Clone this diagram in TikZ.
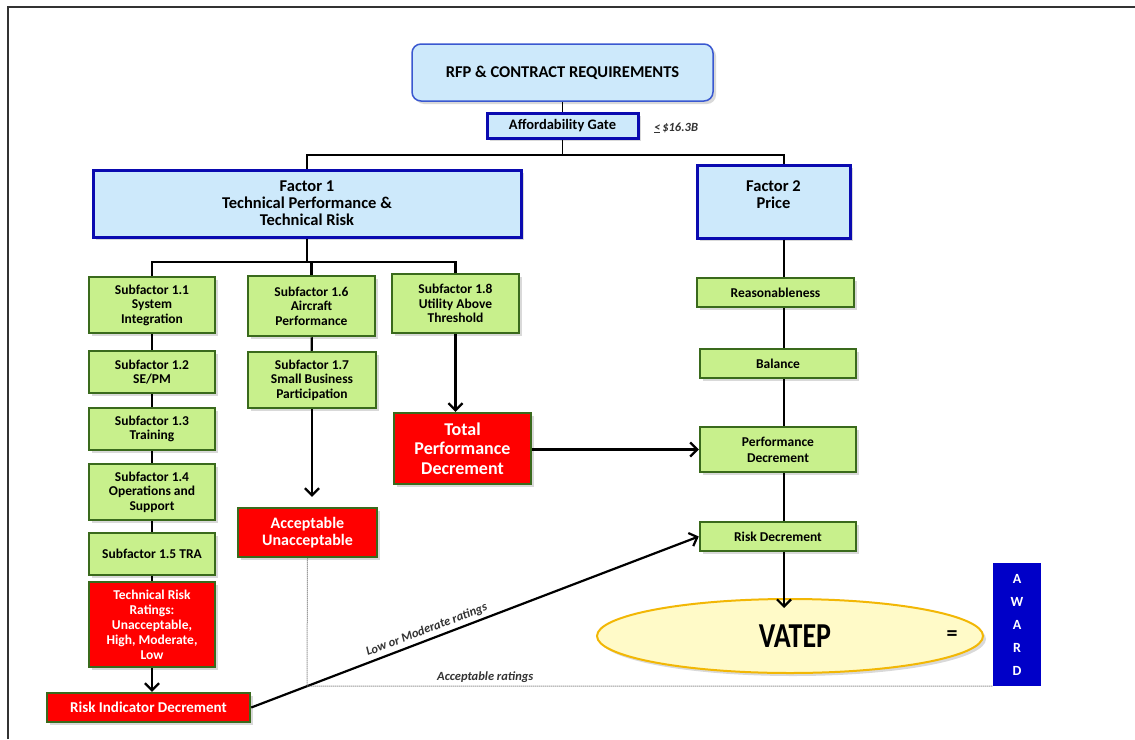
\documentclass[tikz,border=0pt]{standalone}
\usepackage{fontspec}
\setmainfont{Carlito}
\usetikzlibrary{arrows.meta}
\usetikzlibrary{shadows}
\usetikzlibrary{shapes.geometric}

\definecolor{boxblue}{HTML}{CDE9FB}
\definecolor{edgeblue}{HTML}{0A0AB0}
\definecolor{rfpedge}{HTML}{3A58D0}
\definecolor{boxgreen}{HTML}{C8F08C}
\definecolor{edgegreen}{HTML}{3A6A1C}
\definecolor{boxred}{HTML}{FF0000}
\definecolor{ovalfill}{HTML}{FFFAC8}
\definecolor{ovaledge}{HTML}{F2B705}
\definecolor{awardblue}{HTML}{0000C8}

\begin{document}
\begin{tikzpicture}[x=1pt,y=-1pt,
    >={Straight Barb[length=7pt,width=14pt]},
    shade/.style={drop shadow={opacity=0.3,shadow xshift=3pt,shadow yshift=-3pt}},
    factor/.style={draw=edgeblue,line width=3pt,fill=boxblue,inner sep=0pt,
      align=center,shade,font=\bfseries\fontsize{16.5}{17}\selectfont},
    sub/.style={draw=edgegreen,line width=2.5pt,fill=boxgreen,inner sep=0pt,
      align=center,shade,font=\bfseries\fontsize{13.5}{14.5}\selectfont},
    redbox/.style={sub,fill=boxred,text=white},
    link/.style={line width=2.2pt},
    note/.style={font=\bfseries\itshape\fontsize{12.5}{14}\selectfont,text=black!80}]
\useasboundingbox (0,0) rectangle (1135,739);
\draw[line width=1.4pt,black!80] (8,739) -- (8,7) -- (1135,7);

% top of the tree
\node[factor,draw=rfpedge,line width=1.5pt,rounded corners=9pt,minimum width=301pt,
  minimum height=57pt] (rfp) at (562.5,72.5) {RFP \& CONTRACT REQUIREMENTS};
\node[factor,minimum width=151pt,minimum height=25pt,font=\bfseries\fontsize{14.5}{16}\selectfont] (gate) at (562.5,125.5) {Affordability Gate};
\node[note] (cap) at (676,128) {\underline{<}\,\$16.3B};
\node[factor,minimum width=428pt,minimum height=67pt] (f1) at (307,203.5) {Factor 1\\Technical Performance \&\\Technical Risk};
\node[factor,minimum width=153pt,minimum height=73pt] (f2) at (773.5,201.5) {Factor 2\\Price\\[-3pt]};

\coordinate (bar) at (562.5,155);
\coordinate (subbar) at (307,262);
\coordinate (spine) at (784,0);
\draw[thin] (rfp.south) -- (gate.north);
\draw[thin] (gate.south) -- (bar);
\draw[link] (f1.north) |- (bar) -| (f2.north -| spine);

% factor 1 subfactors
\node[sub,minimum width=126pt,minimum height=56pt] (s11) at (152,305) {Subfactor 1.1\\System\\Integration};
\node[sub,minimum width=126pt,minimum height=42pt] (s12) at (152,372) {Subfactor 1.2\\SE/PM};
\node[sub,minimum width=126pt,minimum height=42pt] (s13) at (152,429) {Subfactor 1.3\\Training};
\node[sub,minimum width=126pt,minimum height=56pt] (s14) at (152,492) {Subfactor 1.4\\Operations and\\Support};
\node[sub,minimum width=126pt,minimum height=42pt] (s15) at (152,554) {Subfactor 1.5 TRA};
\node[redbox,minimum width=126pt,minimum height=85pt,font=\bfseries\fontsize{13.5}{15}\selectfont] (trr) at (152,624.5) {Technical Risk\\Ratings:\\Unacceptable,\\High, Moderate,\\Low};
\node[redbox,minimum width=203pt,minimum height=29pt,font=\bfseries\fontsize{15}{16}\selectfont] (rid) at (148.5,707.5) {Risk Indicator Decrement};
\node[sub,minimum width=127pt,minimum height=60pt] (s16) at (311.5,306) {Subfactor 1.6\\Aircraft\\Performance};
\node[sub,minimum width=128pt,minimum height=56pt] (s17) at (312,380) {Subfactor 1.7\\Small Business\\Participation};
\node[redbox,minimum width=139pt,minimum height=49pt,font=\bfseries\fontsize{16}{17}\selectfont] (acc) at (307.5,532.5) {Acceptable\\Unacceptable};
\node[sub,minimum width=127pt,minimum height=59pt] (s18) at (455.5,303.5) {Subfactor 1.8\\Utility Above\\Threshold};
\node[redbox,minimum width=137pt,minimum height=71pt,font=\bfseries\fontsize{18}{19.5}\selectfont] (tpd) at (462.5,448.5) {Total\\Performance\\Decrement};

\draw[link] (f1.south) -- (subbar);
\draw[link] (s11.north) |- (subbar -| s18.north) -- (s18.north);
\draw[link] (s16.north) -- (s16.north |- subbar);
\foreach \a/\b in {s11/s12,s12/s13,s13/s14,s14/s15,s15/trr,s16/s17}
  \draw[link] (\a) -- (\b);
\draw[link,->] (trr.south) -- (trr.south |- rid.north);
\draw[link,->,shorten >=10pt] (s17.south) -- (s17.south |- acc.north);
\draw[link,->] (s18.south) -- (s18.south |- tpd.north);

% factor 2 chain
\node[sub,minimum width=157pt,minimum height=29pt] (rea) at (775.5,292.5) {Reasonableness};
\node[sub,minimum width=156pt,minimum height=29pt] (bal) at (778,363.5) {Balance};
\node[sub,minimum width=156pt,minimum height=45pt,font=\bfseries\fontsize{13.5}{16}\selectfont] (pd) at (778,449.5) {Performance\\Decrement};
\node[sub,minimum width=156pt,minimum height=29pt] (rd) at (778,536.5) {Risk Decrement};
\node[ellipse,draw=ovaledge,line width=2pt,fill=ovalfill,shade,minimum width=386pt,
  minimum height=74pt] (vatep) at (790,636) {};
\node[font=\bfseries\fontsize{28}{30}\selectfont] (vt) at (795,636) {\scalebox{1}[1.25]{VATEP}};
\node[font=\bfseries\fontsize{22}{24}\selectfont] (eq) at (952,636) {=};
\node[fill=awardblue,text=white,minimum width=48pt,minimum height=123pt,inner sep=0pt,
  align=center,font=\bfseries\fontsize{14}{23}\selectfont] (award) at (1017,624.5) {A\\W\\A\\R\\D};

\foreach \a/\b in {f2/rea,rea/bal,bal/pd,pd/rd}
  \draw[link] (\a.south -| spine) -- (\b.north -| spine);
\draw[link,->] (rd.south -| spine) -- ([yshift=-10pt]vatep.north -| spine);
\draw[link,->] (tpd.east |- pd.west) -- (pd.west);
\draw[link,->] (rid.east) -- (rd.west)
  node[note,pos=0.4,sloped,above] {Low or Moderate ratings};

\coordinate (dot) at (307,686);
\draw[densely dotted,line width=1pt,black!60] (acc.south) -- (dot) -- (dot -| award.west)
  node[note,pos=0.26,above] {Acceptable ratings};
\end{tikzpicture}
\end{document}
